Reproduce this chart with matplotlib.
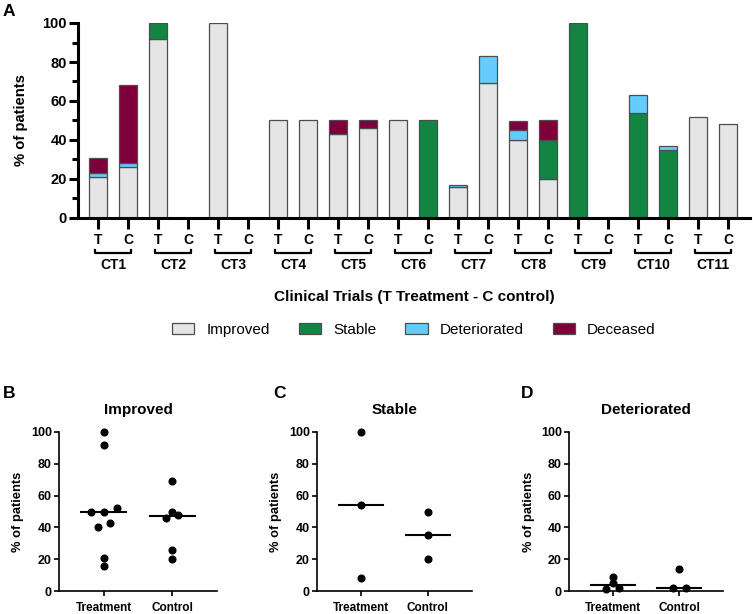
import numpy as np
from matplotlib import pyplot as plt
from matplotlib.patches import Patch
from matplotlib.ticker import MultipleLocator

trials = ['CT1', 'CT2', 'CT3', 'CT4', 'CT5', 'CT6',
          'CT7', 'CT8', 'CT9', 'CT10', 'CT11']
arms = ['T', 'C']

# one value per bar, order: CT1 T, CT1 C, CT2 T, CT2 C, ...
improved = [21, 26, 92, 0, 100, 0, 50, 50, 43, 46, 50, 0,
            16, 69, 40, 20, 0, 0, 0, 0, 52, 48]
stable = [0, 0, 8, 0, 0, 0, 0, 0, 0, 0, 0, 50,
          0, 0, 0, 20, 100, 0, 54, 35, 0, 0]
deteriorated = [2, 2, 0, 0, 0, 0, 0, 0, 0, 0, 0, 0,
                1, 14, 5, 0, 0, 0, 9, 2, 0, 0]
deceased = [8, 40, 0, 0, 0, 0, 0, 0, 7, 4, 0, 0,
            0, 0, 5, 10, 0, 0, 0, 0, 0, 0]

outcomes = ['Improved', 'Stable', 'Deteriorated', 'Deceased']
colors = ['#E5E5E5', '#138442', '#66CCFF', '#7E003A']
edge = '#4D4D4D'
groups = ['Treatment', 'Control']

plt.rcParams['font.family'] = ['Liberation Sans', 'DejaVu Sans']


def swarm_offsets(ax, values, center, row_px=5.6, step_px=12.7):
    """Bin points into rows (by pixel height) and spread each row sideways."""
    cx = ax.transData.transform((center, 0))[0]
    py = [ax.transData.transform((center, v))[1] for v in values]
    order = sorted(range(len(values)), key=lambda i: values[i])
    rows, cur = [], []
    for i in order:
        if cur and py[i] - py[cur[0]] > row_px:
            rows.append(cur)
            cur = []
        cur.append(i)
    if cur:
        rows.append(cur)
    xs = np.zeros(len(values))
    inv = ax.transData.inverted()
    for row in rows:
        n = len(row)
        for k, i in enumerate(row):
            px = cx + (k - (n - 1) / 2) * step_px
            xs[i] = inv.transform((px, py[i]))[0]
    return xs


def main():
    fig = plt.figure(figsize=(7.53, 6.14), dpi=100)

    # ---- panel A: stacked bars ----
    ax = fig.add_axes([78 / 753, 1 - 218 / 614, 672 / 753, 195 / 614])
    x = np.arange(len(improved))
    series = [improved, stable, deteriorated, deceased]
    bottom = np.zeros(len(x))
    for vals, col in zip(series, colors):
        vals = np.array(vals, dtype=float)
        keep = vals > 0
        ax.bar(x[keep], vals[keep], 0.6, bottom=bottom[keep], color=col,
               edgecolor=edge, linewidth=0.9, zorder=2)
        bottom += vals

    ax.set_xlim(-0.68, 21.72)
    ax.set_ylim(0, 100)
    ax.set_yticks(range(0, 101, 20))
    ax.yaxis.set_minor_locator(MultipleLocator(10))
    ax.set_xticks(x)
    ax.set_xticklabels(arms * len(trials))
    for s in ['top', 'right']:
        ax.spines[s].set_visible(False)
    for s in ['left', 'bottom']:
        ax.spines[s].set_linewidth(2.2)
    ax.tick_params(axis='y', which='major', length=6.5, width=2.2, pad=1.5,
                   labelsize=10.5)
    ax.tick_params(axis='y', which='minor', length=4.3, width=2.2)
    ax.tick_params(axis='x', length=8, width=2.2, pad=3, labelsize=10)
    for lab in ax.get_xticklabels() + ax.get_yticklabels():
        lab.set_fontweight('bold')

    tr = ax.get_xaxis_transform()
    for i, name in enumerate(trials):
        x0, x1 = 2 * i - 0.1, 2 * i + 1 + 0.1
        ax.plot([x0, x0, x1, x1], [-0.164, -0.179, -0.179, -0.164],
                color='black', lw=1.6, transform=tr, clip_on=False)
        ax.text(2 * i + 0.5, -0.241, name, transform=tr, ha='center',
                va='center', fontsize=10, fontweight='bold')

    ax.text(0.5, -0.405, 'Clinical Trials (T Treatment - C control)',
            transform=ax.transAxes, ha='center', va='center', fontsize=11,
            fontweight='bold')
    ax.text(-0.0848, 0.5, '% of patients', transform=ax.transAxes,
            rotation=90, ha='center', va='center', fontsize=10.6,
            fontweight='bold')

    handles = [Patch(facecolor=c, edgecolor=edge, linewidth=0.9)
               for c in colors]
    ax.legend(handles, outcomes, loc='center', bbox_to_anchor=(0.5, -0.574),
              ncol=4, frameon=False, fontsize=11, handlelength=1.45,
              handleheight=0.72, handletextpad=0.8, columnspacing=1.9)

    fig.text(9 / 753, 1 - 12 / 614, 'A', ha='center', va='center',
             fontsize=12.5, fontweight='bold')

    # ---- panels B, C, D: treatment vs control ----
    panels = [('B', 'Improved', improved, 59, 158, 9),
              ('C', 'Stable', stable, 317, 155, 279),
              ('D', 'Deteriorated', deteriorated, 569, 154, 527)]
    for letter, title, vals, left, width, lx in panels:
        bx = fig.add_axes([left / 753, 1 - 591 / 614, width / 753, 159 / 614])
        bx.set_xlim(-0.66, 1.66)
        bx.set_ylim(0, 100)
        bx.set_yticks(range(0, 101, 20))
        bx.set_xticks([0, 1])
        bx.set_xticklabels(groups)
        for s in ['top', 'right']:
            bx.spines[s].set_visible(False)
        for s in ['left', 'bottom']:
            bx.spines[s].set_linewidth(1.2)
        bx.tick_params(axis='y', length=3.6, width=1.2, pad=1.5, labelsize=9)
        bx.tick_params(axis='x', length=3.6, width=1.2, pad=4, labelsize=8.5)
        for lab in bx.get_xticklabels() + bx.get_yticklabels():
            lab.set_fontweight('bold')

        for j in range(2):
            pts = [v for v in vals[j::2] if v > 0]
            xs = swarm_offsets(bx, pts, j)
            bx.plot(xs, pts, 'o', color='black', markersize=4.8,
                    clip_on=False, zorder=3)
            med = np.median(pts)
            bx.plot([j - 0.33, j + 0.33], [med, med], color='black',
                    lw=1.5, zorder=2)

        bx.text(0.5, 1.138, title, transform=bx.transAxes, ha='center',
                va='center', fontsize=11, fontweight='bold')
        bx.text(-0.262, 0.5, '% of patients', transform=bx.transAxes,
                rotation=90, ha='center', va='center', fontsize=9.3,
                fontweight='bold')
        fig.text(lx / 753, 1 - 393 / 614, letter, ha='center', va='center',
                 fontsize=12.5, fontweight='bold')

    fig.savefig('out.png', dpi=100)


if __name__ == "__main__":
    main()
